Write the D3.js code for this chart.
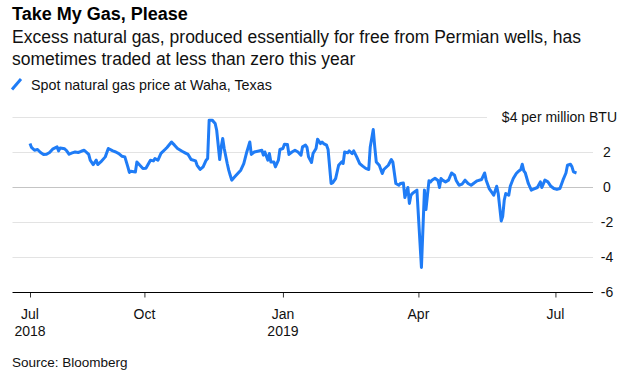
<!DOCTYPE html>
<html>
<head>
<meta charset="utf-8">
<script src="https://cdn.jsdelivr.net/npm/d3@7"></script>
<style>
  body { margin: 0; background: #fff; }
  svg { font-family: "Liberation Sans", Arial, Helvetica, sans-serif; }
  .grid { stroke: #e3e3e3; stroke-width: 1; }
  .zero { stroke: #c4c4c4; }
</style>
</head>
<body>
<svg id="chart" width="626" height="380"></svg>
<script>
// Waha spot price, $ per million BTU
var dates = [
  "2018-07-17","2018-07-18","2018-07-20","2018-07-22","2018-07-24","2018-07-26","2018-07-28","2018-07-30",
  "2018-08-01","2018-08-04","2018-08-05","2018-08-06","2018-08-09","2018-08-10","2018-08-12","2018-08-14",
  "2018-08-16","2018-08-18","2018-08-20","2018-08-22","2018-08-25","2018-08-26","2018-08-28","2018-08-30",
  "2018-08-31","2018-09-02","2018-09-05","2018-09-07","2018-09-10","2018-09-12","2018-09-14","2018-09-16",
  "2018-09-18","2018-09-20","2018-09-21","2018-09-22","2018-09-25","2018-09-26","2018-09-28","2018-09-30",
  "2018-10-02","2018-10-05","2018-10-07","2018-10-08","2018-10-10","2018-10-12","2018-10-15","2018-10-16",
  "2018-10-19","2018-10-21","2018-10-23","2018-10-26","2018-10-28","2018-10-30","2018-11-01","2018-11-04",
  "2018-11-05","2018-11-07","2018-11-09","2018-11-11","2018-11-12","2018-11-13","2018-11-15","2018-11-17",
  "2018-11-18","2018-11-20","2018-11-21","2018-11-22","2018-11-23","2018-11-25","2018-11-26","2018-11-27",
  "2018-11-28","2018-11-30","2018-12-02","2018-12-04","2018-12-06","2018-12-08","2018-12-10","2018-12-11",
  "2018-12-13","2018-12-16","2018-12-18","2018-12-19","2018-12-20","2018-12-22","2018-12-23","2018-12-24",
  "2018-12-26","2018-12-27","2018-12-29","2018-12-30","2019-01-01","2019-01-02","2019-01-04","2019-01-05",
  "2019-01-07","2019-01-09","2019-01-11","2019-01-13","2019-01-14","2019-01-16","2019-01-17","2019-01-18",
  "2019-01-20","2019-01-21","2019-01-23","2019-01-24","2019-01-26","2019-01-27","2019-01-28","2019-01-30",
  "2019-01-31","2019-02-02","2019-02-03","2019-02-05","2019-02-07","2019-02-09","2019-02-10","2019-02-11",
  "2019-02-13","2019-02-14","2019-02-16","2019-02-17","2019-02-19","2019-02-21","2019-02-23","2019-02-25",
  "2019-02-27","2019-02-28","2019-03-02","2019-03-03","2019-03-04","2019-03-06","2019-03-08","2019-03-09",
  "2019-03-12","2019-03-14","2019-03-15","2019-03-17","2019-03-19","2019-03-20","2019-03-22","2019-03-23",
  "2019-03-25","2019-03-26","2019-03-27","2019-03-28","2019-03-30","2019-03-31","2019-04-03","2019-04-05",
  "2019-04-06","2019-04-08","2019-04-09","2019-04-10","2019-04-12","2019-04-14","2019-04-15","2019-04-16",
  "2019-04-17","2019-04-19","2019-04-21","2019-04-23","2019-04-25","2019-04-26","2019-04-28","2019-04-30",
  "2019-05-02","2019-05-04","2019-05-06","2019-05-08","2019-05-10","2019-05-13","2019-05-15","2019-05-16",
  "2019-05-18","2019-05-20","2019-05-21","2019-05-23","2019-05-24","2019-05-26","2019-05-27","2019-05-28",
  "2019-05-29","2019-05-31","2019-06-01","2019-06-03","2019-06-05","2019-06-06","2019-06-08","2019-06-09",
  "2019-06-10","2019-06-11","2019-06-13","2019-06-15","2019-06-16","2019-06-19","2019-06-21","2019-06-22",
  "2019-06-24","2019-06-26","2019-06-28","2019-06-30","2019-07-02","2019-07-04","2019-07-06","2019-07-08",
  "2019-07-09","2019-07-11","2019-07-12","2019-07-13","2019-07-15"
];
var prices = [
  2.51, 2.29, 2.13, 2.17, 2.0, 1.89, 1.9, 2.0,
  2.19, 2.32, 2.09, 2.26, 2.21, 2.13, 1.9, 1.98,
  2.03, 2.0, 2.07, 2.13, 1.89, 1.56, 1.31, 1.56,
  1.31, 1.46, 1.75, 2.23, 2.09, 2.03, 1.94, 1.79,
  1.75, 1.18, 0.86, 0.93, 0.89, 1.46, 1.27, 1.09,
  1.1, 1.56, 1.52, 1.66, 1.56, 1.95, 2.2, 2.29,
  2.6, 2.42, 2.23, 2.07, 1.98, 1.89, 1.6, 1.52,
  1.27, 1.03, 1.18, 1.56, 1.66, 3.85, 3.85, 3.66,
  3.27, 1.6, 2.32, 2.8, 2.23, 1.37, 0.99, 0.7,
  0.42, 0.61, 0.8, 0.99, 1.37, 2.03, 2.6, 1.89,
  2.03, 2.09, 2.13, 1.85, 2.03, 1.56, 1.94, 1.46,
  1.46, 1.18, 1.56, 2.17, 2.23, 2.47, 2.46, 1.89,
  2.03, 2.13, 2.03, 1.85, 2.32, 2.42, 2.29, 1.75,
  1.43, 1.94, 2.23, 2.76, 2.51, 2.6, 2.51, 2.42,
  2.17, 0.23, 0.26, 0.51, 1.27, 1.46, 1.37, 2.03,
  1.98, 2.09, 1.94, 2.09, 1.75, 1.37, 1.22, 1.09,
  1.03, 2.32, 3.31, 2.32, 1.46, 1.27, 0.8, 1.03,
  1.27, 1.6, 1.46, 0.23, 0.13, 0.23, 0.26, -0.57,
  0, -0.91, -0.44, -0.34, -0.21, -0.15, -4.57, -0.15,
  -1.26, 0.38, 0.32, 0.42, 0.53, 0.4, 0, 0.51,
  0.42, 0.32, 0.42, 0.83, 0.7, 0.42, 0.13, 0.19,
  0.42, 0.23, 0.13, 0.26, 0.38, 0.46, 0.83, 0.42,
  -0.06, -0.31, -0.44, 0.07, -0.34, -1.91, -1.64, -0.73,
  -0.34, -0.44, 0.07, 0.51, 0.8, 0.89, 1.03, 1.33,
  0.95, 0.83, 0.23, -0.15, -0.11, 0, 0.32, 0,
  0.42, 0.32, 0.07, -0.06, -0.11, -0.06, 0.42, 0.83,
  1.27, 1.33, 1.18, 0.89, 0.83
];
var tickDates = ["2018-07-17", "2018-10-01", "2019-01-01", "2019-04-01", "2019-07-01"];
var tickLabels = [["Jul", "2018"], ["Oct"], ["Jan", "2019"], ["Apr"], ["Jul"]];
var yTicks = [-6, -4, -2, 0, 2, 4];
var yUnitLabel = "$4 per million BTU";

var parse = d3.timeParse("%Y-%m-%d");
var data = dates.map(function(d, i) { return { date: parse(d), value: prices[i] }; });

var svg = d3.select("#chart"),
    left = 12.5, right = 593, lineColor = "#1f7cf6";

var x = d3.scaleTime()
    .domain(d3.extent(data, function(d) { return d.date; }))
    .range([30, 576.5]);

var y = d3.scaleLinear()
    .domain([-6, 4])
    .range([292.5, 117.5]);

// headline block
svg.append("text").attr("x", 12).attr("y", 20)
    .attr("font-size", 18).attr("font-weight", "bold").attr("fill", "#000")
    .text("Take My Gas, Please");
var sub = svg.append("text").attr("font-size", 17.5).attr("fill", "#111");
sub.append("tspan").attr("x", 12).attr("y", 43)
    .text("Excess natural gas, produced essentially for free from Permian wells, has");
sub.append("tspan").attr("x", 12).attr("y", 64.5)
    .text("sometimes traded at less than zero this year");

// legend
svg.append("line").attr("x1", 12).attr("y1", 89.5).attr("x2", 21).attr("y2", 79)
    .attr("stroke", lineColor).attr("stroke-width", 3);
svg.append("text").attr("x", 31).attr("y", 89.5)
    .attr("font-size", 14.3).attr("fill", "#111")
    .text("Spot natural gas price at Waha, Texas");

// gridlines
svg.append("g").selectAll("line")
    .data(yTicks.filter(function(t) { return t > -6; }))
    .enter().append("line")
    .attr("class", function(t) { return t === 0 ? "grid zero" : "grid"; })
    .attr("x1", left)
    .attr("x2", function(t) { return t === 4 ? 487 : right; })
    .attr("y1", function(t) { return y(t); })
    .attr("y2", function(t) { return y(t); });

// y labels on the right
svg.append("g").selectAll("text")
    .data(yTicks)
    .enter().append("text")
    .attr("x", function(t) { return t === 4 ? 617 : 607; })
    .attr("y", function(t) { return y(t); })
    .attr("dy", "0.35em")
    .attr("text-anchor", function(t) { return t === 4 ? "end" : "middle"; })
    .attr("font-size", 14).attr("fill", "#111")
    .text(function(t) { return t === 4 ? yUnitLabel : d3.format("d")(t).replace("−", "-"); });

// x axis
var xAxis = svg.append("g")
    .attr("transform", "translate(0," + y(-6) + ")")
    .call(d3.axisBottom(x).tickValues(tickDates.map(parse)).tickSize(5).tickFormat(""));
xAxis.select(".domain").remove();
xAxis.selectAll(".tick line").attr("stroke", "#333");
xAxis.selectAll(".tick text").remove();

svg.append("line")
    .attr("x1", left).attr("x2", right)
    .attr("y1", y(-6)).attr("y2", y(-6))
    .attr("stroke", "#000").attr("stroke-width", 1);

var xl = svg.append("g").selectAll("text")
    .data(tickDates)
    .enter().append("text")
    .attr("text-anchor", "middle")
    .attr("font-size", 14).attr("fill", "#111");
xl.each(function(d, i) {
  var t = d3.select(this);
  tickLabels[i].forEach(function(s, j) {
    t.append("tspan").attr("x", x(parse(d))).attr("y", 319 + j * 16.5).text(s);
  });
});

// price line
svg.append("path")
    .datum(data)
    .attr("fill", "none")
    .attr("stroke", lineColor)
    .attr("stroke-width", 3)
    .attr("stroke-linejoin", "round")
    .attr("d", d3.line()
        .x(function(d) { return x(d.date); })
        .y(function(d) { return y(d.value); }));

// source
svg.append("text").attr("x", 12).attr("y", 367)
    .attr("font-size", 13.5).attr("fill", "#111")
    .text("Source: Bloomberg");
</script>
</body>
</html>
